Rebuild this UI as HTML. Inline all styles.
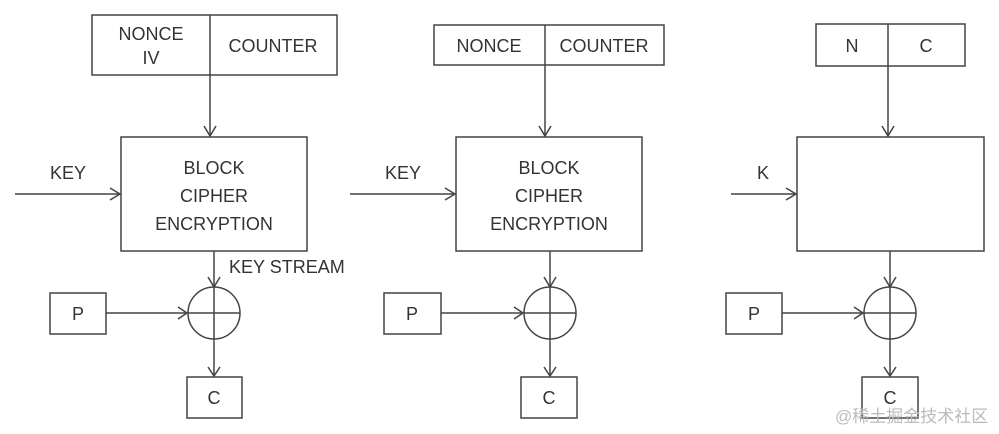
<!DOCTYPE html>
<html><head><meta charset="utf-8"><style>
html,body{margin:0;padding:0;background:#fff;}
svg{display:block;}
text{font-family:"Liberation Sans",sans-serif;font-size:18px;fill:#333;}
</style></head><body>
<svg width="999" height="434" viewBox="0 0 999 434" xmlns="http://www.w3.org/2000/svg">
<g stroke="#444" stroke-width="1.5" fill="none">
<!-- Diagram 1 -->
<rect x="92" y="15" width="245" height="60"/><line x1="210" y1="15" x2="210" y2="75"/>
<line x1="210" y1="75" x2="210" y2="136"/><polyline points="204,126 210,136 216,126"/>
<rect x="121" y="137" width="186" height="114"/>
<line x1="15" y1="194" x2="120" y2="194"/><polyline points="110,188 120,194 110,200"/>
<line x1="214" y1="251" x2="214" y2="376"/><polyline points="208,277 214,287 220,277"/>
<circle cx="214" cy="313" r="26"/><line x1="188" y1="313" x2="240" y2="313"/>
<polyline points="208,367 214,376 220,367"/>
<rect x="50" y="293" width="56" height="41"/><line x1="106" y1="313" x2="187" y2="313"/><polyline points="178,307 187,313 178,319"/>
<rect x="187" y="377" width="55" height="41"/>
<!-- Diagram 2 -->
<rect x="434" y="25" width="230" height="40"/><line x1="545" y1="25" x2="545" y2="65"/>
<line x1="545" y1="65" x2="545" y2="136"/><polyline points="539,126 545,136 551,126"/>
<rect x="456" y="137" width="186" height="114"/>
<line x1="350" y1="194" x2="455" y2="194"/><polyline points="445,188 455,194 445,200"/>
<line x1="550" y1="251" x2="550" y2="376"/><polyline points="544,277 550,287 556,277"/>
<circle cx="550" cy="313" r="26"/><line x1="524" y1="313" x2="576" y2="313"/>
<polyline points="544,367 550,376 556,367"/>
<rect x="384" y="293" width="57" height="41"/><line x1="441" y1="313" x2="523" y2="313"/><polyline points="514,307 523,313 514,319"/>
<rect x="521" y="377" width="56" height="41"/>
<!-- Diagram 3 -->
<rect x="816" y="24" width="149" height="42"/><line x1="888" y1="24" x2="888" y2="66"/>
<line x1="888" y1="66" x2="888" y2="136"/><polyline points="882,126 888,136 894,126"/>
<rect x="797" y="137" width="187" height="114"/>
<line x1="731" y1="194" x2="796" y2="194"/><polyline points="786,188 796,194 786,200"/>
<line x1="890" y1="251" x2="890" y2="376"/><polyline points="884,277 890,287 896,277"/>
<circle cx="890" cy="313" r="26"/><line x1="864" y1="313" x2="916" y2="313"/>
<polyline points="884,367 890,376 896,367"/>
<rect x="726" y="293" width="56" height="41"/><line x1="782" y1="313" x2="863" y2="313"/><polyline points="854,307 863,313 854,319"/>
<rect x="862" y="377" width="56" height="41"/>
</g>
<text x="151" y="40" text-anchor="middle">NONCE</text>
<text x="151" y="64" text-anchor="middle">IV</text>
<text x="273" y="52" text-anchor="middle">COUNTER</text>
<text x="50" y="179">KEY</text>
<text x="214" y="174" text-anchor="middle">BLOCK</text>
<text x="214" y="202" text-anchor="middle">CIPHER</text>
<text x="214" y="230" text-anchor="middle">ENCRYPTION</text>
<text x="229" y="273">KEY STREAM</text>
<text x="78" y="320" text-anchor="middle">P</text>
<text x="214" y="404" text-anchor="middle">C</text>

<text x="489" y="52" text-anchor="middle">NONCE</text>
<text x="604" y="52" text-anchor="middle">COUNTER</text>
<text x="385" y="179">KEY</text>
<text x="549" y="174" text-anchor="middle">BLOCK</text>
<text x="549" y="202" text-anchor="middle">CIPHER</text>
<text x="549" y="230" text-anchor="middle">ENCRYPTION</text>
<text x="412" y="320" text-anchor="middle">P</text>
<text x="549" y="404" text-anchor="middle">C</text>

<text x="852" y="52" text-anchor="middle">N</text>
<text x="926" y="52" text-anchor="middle">C</text>
<text x="757" y="179">K</text>
<text x="754" y="320" text-anchor="middle">P</text>
<text x="890" y="404" text-anchor="middle">C</text>
<text x="835" y="422" style="font-family:'Liberation Sans','Noto Sans CJK SC',sans-serif;font-size:17px;fill:#bbb;">@稀土掘金技术社区</text>
</svg>
</body></html>
